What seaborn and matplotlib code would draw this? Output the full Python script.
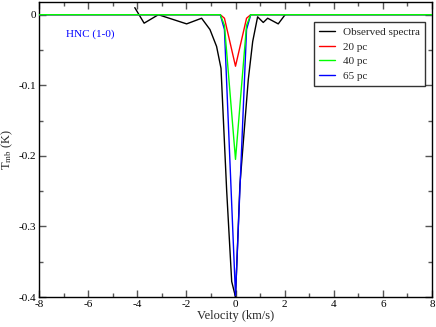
import matplotlib
matplotlib.use("Agg")
import matplotlib.pyplot as plt
import seaborn as sns
import pandas as pd
from matplotlib.ticker import MultipleLocator, FuncFormatter

sns.set_theme(style="white")
plt.rcParams['font.family'] = ['Liberation Serif', 'DejaVu Serif']
plt.rcParams['mathtext.fontset'] = 'stix'

# Observed spectrum
obs_v = [-4.1, -3.72, -3.14, -1.99, -1.38, -1.04, -0.77, -0.59, -0.36, -0.155, -0.02,
         0.0, 0.18, 0.52, 0.70, 0.90, 1.13, 1.31, 1.74, 2.02]
obs_t = [0.01, -0.012, 0.0, -0.013, -0.005, -0.021, -0.045, -0.076, -0.249, -0.378, -0.397,
         -0.40, -0.241, -0.092, -0.038, -0.003, -0.011, -0.005, -0.013, 0.0]

# Model spectra
mod_v = [-8.0, -0.62, -0.45, 0.0, 0.45, 0.62, 8.0]
t_20pc = [0.0, 0.0, -0.005, -0.073, -0.005, 0.0, 0.0]
t_40pc = [0.0, 0.0, -0.015, -0.205, -0.015, 0.0, 0.0]
t_65pc = [0.0, 0.0, -0.021, -0.398, -0.021, 0.0, 0.0]

fig = plt.figure(figsize=(4.36, 3.27), dpi=100)
ax = fig.add_axes([39/436, 1 - 297/327, (432-39)/436, (297-2)/327])

lw = 1.0
sns.lineplot(x=obs_v, y=obs_t, ax=ax, color='black', lw=lw, label='Observed spectra',
             estimator=None, sort=False, zorder=2)
sns.lineplot(x=mod_v, y=t_20pc, ax=ax, color='#ff0000', lw=lw, label='20 pc',
             estimator=None, sort=False, zorder=3)
sns.lineplot(x=mod_v, y=t_40pc, ax=ax, color='#00ff00', lw=lw, label='40 pc',
             estimator=None, sort=False, zorder=5)
sns.lineplot(x=mod_v, y=t_65pc, ax=ax, color='#0000ff', lw=lw, label='65 pc',
             estimator=None, sort=False, zorder=4)

ax.set_xlim(-8, 8)
ax.set_ylim(-0.4, 0.018)
ax.xaxis.set_major_locator(MultipleLocator(2))
ax.xaxis.set_minor_locator(MultipleLocator(1))
ax.yaxis.set_major_locator(MultipleLocator(0.1))
ax.yaxis.set_minor_locator(MultipleLocator(0.05))
ax.yaxis.set_major_formatter(FuncFormatter(lambda v, p: '0' if abs(v) < 1e-9 else f'{v:.1f}'))
ax.xaxis.set_major_formatter(FuncFormatter(lambda v, p: f'{v:.0f}'))
ax.tick_params(which='both', direction='in', top=True, right=True, bottom=True, left=True,
               colors='#555555', labelcolor='black', labelsize=8, pad=2)
ax.tick_params(which='major', length=5, width=1)
ax.tick_params(which='minor', length=3, width=1)
for s in ax.spines.values():
    s.set_color('black')
    s.set_linewidth(1.0)

ax.set_xlabel('Velocity (km/s)', fontsize=9, labelpad=1)
ax.set_ylabel(r'T$_{\rm mb}$ (K)', fontsize=9)
ax.yaxis.set_label_coords((15 - 39) / 393, 0.5)

ax.text(-6.9, -0.028, 'HNC (1-0)', color='#0000ff', fontsize=8, va='center', ha='left')

leg = ax.legend(loc='upper left', bbox_to_anchor=((314 - 39) / 393, 1 - 20/295),
                fontsize=8, frameon=True, fancybox=False, edgecolor='black',
                handlelength=1.45, handletextpad=0.75, borderpad=0.45, labelspacing=0.45,
                borderaxespad=0)
leg.get_frame().set_linewidth(1.0)

fig.savefig('out.png', dpi=100)
